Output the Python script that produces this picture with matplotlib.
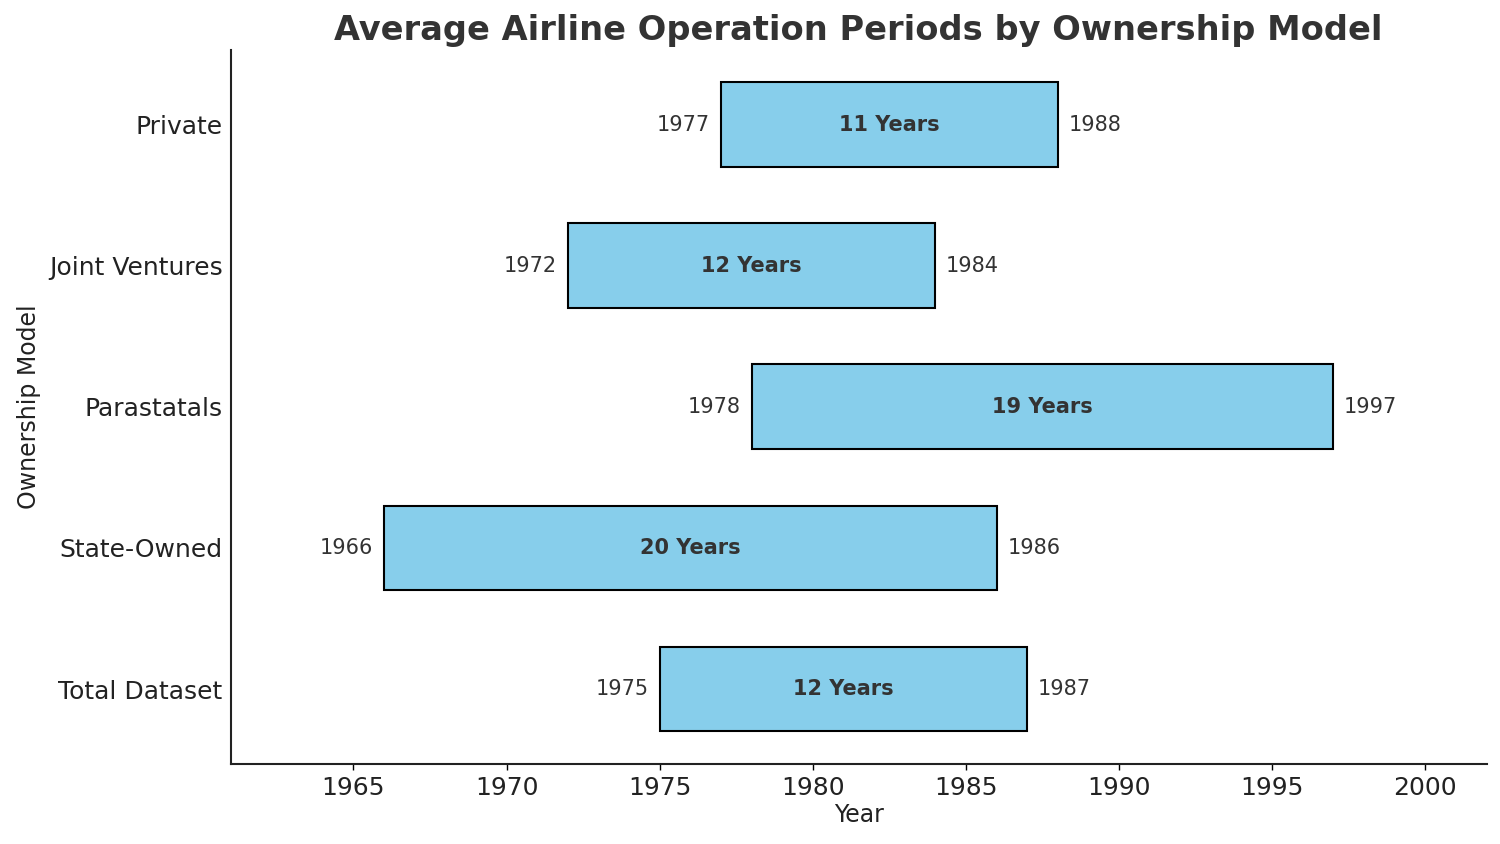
import matplotlib
matplotlib.use("Agg")
import matplotlib.pyplot as plt

categories = ["Total Dataset", "State-Owned", "Parastatals", "Joint Ventures", "Private"]
start_years = [1975, 1966, 1978, 1972, 1977]
end_years = [1987, 1986, 1997, 1984, 1988]
xticks = [1965, 1970, 1975, 1980, 1985, 1990, 1995, 2000]

fig = plt.figure(figsize=(15, 8.44), dpi=100)
ax = fig.add_axes([0.154, 0.095, 0.837, 0.846])

durations = [e - s for s, e in zip(start_years, end_years)]
ypos = list(range(len(categories)))
ax.barh(ypos, durations, left=start_years, height=0.6, color="#87CEEB",
        edgecolor="black", linewidth=1.5)

for y, s, e, d in zip(ypos, start_years, end_years, durations):
    ax.text(s - 0.35, y, str(s), ha="right", va="center", fontsize=15, color="#333333")
    ax.text(e + 0.35, y, str(e), ha="left", va="center", fontsize=15, color="#333333")
    ax.text((s + e) / 2, y, f"{d} Years", ha="center", va="center", fontsize=15,
            fontweight="bold", color="#333333")

ax.set_yticks(ypos)
ax.set_yticklabels(categories, fontsize=18, color="#222222")
ax.set_xticks(xticks)
ax.set_xticklabels([str(t) for t in xticks], fontsize=18, color="#222222")
ax.set_xlim(1961, 2002)
ax.tick_params(axis="y", length=0, pad=6)
ax.tick_params(axis="x", length=4, width=1, pad=5)

ax.set_xlabel("Year", fontsize=17, color="#222222", labelpad=2)
ax.set_ylabel("Ownership Model", fontsize=17, color="#222222", labelpad=6)
ax.set_title("Average Airline Operation Periods by Ownership Model", fontsize=24.2,
             fontweight="bold", color="#333333", pad=7)

for side in ["top", "right"]:
    ax.spines[side].set_visible(False)
for side in ["left", "bottom"]:
    ax.spines[side].set_linewidth(1.5)
    ax.spines[side].set_color("#222222")

fig.savefig("out.png", dpi=100)
